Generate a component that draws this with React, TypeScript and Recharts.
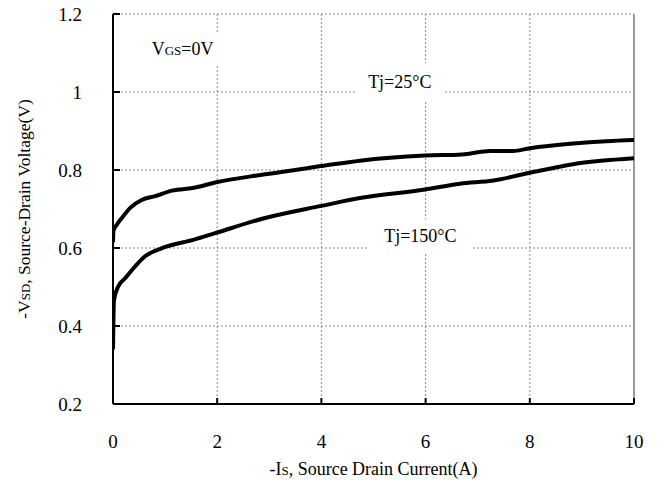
import {
  CartesianGrid,
  Line,
  LineChart,
  ReferenceArea,
  ReferenceLine,
  XAxis,
  YAxis,
} from "recharts";

// Tj = 25°C curve.
const current25 = [0, 0.01, 0.07, 0.17, 0.33, 0.55, 0.81, 1.13, 1.58, 1.96, 2.92, 4.0, 4.74, 5.99, 6.7, 7.24, 7.68, 8.0, 8.83, 9.47, 10];
const voltage25 = [0.615, 0.645, 0.659, 0.677, 0.703, 0.723, 0.733, 0.747, 0.755, 0.768, 0.789, 0.81, 0.824, 0.837, 0.84, 0.849, 0.849, 0.856, 0.868, 0.874, 0.877];

// Tj = 150°C curve.
const current150 = [0, 0.01, 0.02, 0.1, 0.23, 0.42, 0.61, 0.93, 1.57, 1.96, 2.92, 4.0, 4.74, 5.99, 6.66, 7.3, 8.0, 8.83, 10];
const voltage150 = [0.34, 0.43, 0.467, 0.501, 0.522, 0.552, 0.578, 0.599, 0.622, 0.638, 0.677, 0.708, 0.728, 0.75, 0.765, 0.773, 0.793, 0.815, 0.83];

const xTicks = [0, 2, 4, 6, 8, 10];
const yTicks = [0.2, 0.4, 0.6, 0.8, 1.0, 1.2];

const FONT = "'Liberation Serif', 'Times New Roman', serif";

// one table keyed by current; each curve skips the other's sample points
type Row = { x: number; t25?: number; t150?: number };
const rows = new Map<number, Row>();
current25.forEach((x, i) => rows.set(x, { ...(rows.get(x) ?? { x }), t25: voltage25[i] }));
current150.forEach((x, i) => rows.set(x, { ...(rows.get(x) ?? { x }), t150: voltage150[i] }));
const data = [...rows.values()].sort((a, b) => a.x - b.x);

// inward tick marks drawn as short segments (about 6-7px in a 521x390 plot)
const X_TICK_LEN = 6 / 390;
const Y_TICK_LEN = 7 / 52.1;

function XTick({ x, y, payload }: any) {
  return (
    <text x={x} y={y} dy="0.35em" textAnchor="middle" fontFamily={FONT} fontSize={19} fill="#000">
      {payload.value}
    </text>
  );
}

function YTick({ x, y, payload }: any) {
  return (
    <text x={x} y={y} dy="0.35em" textAnchor="end" fontFamily={FONT} fontSize={19} fill="#000">
      {payload.value}
    </text>
  );
}

function XTitle({ viewBox }: any) {
  const { x, y, width } = viewBox;
  return (
    <text x={x + width / 2} y={y + 71} textAnchor="middle" fontFamily={FONT} fontSize={18} fill="#000">
      <tspan>-I</tspan>
      <tspan fontSize={13}>S</tspan>
      <tspan>, Source Drain Current(A)</tspan>
    </text>
  );
}

function YTitle({ viewBox }: any) {
  const { x, y, height } = viewBox;
  const cx = x + 24;
  const cy = y + height / 2;
  return (
    <text
      x={cx}
      y={cy}
      dy="0.35em"
      textAnchor="middle"
      transform={`rotate(-90 ${cx} ${cy})`}
      fontFamily={FONT}
      fontSize={17.5}
      fill="#000"
    >
      <tspan>-V</tspan>
      <tspan fontSize={13}>SD</tspan>
      <tspan>, Source-Drain Voltage(V)</tspan>
    </text>
  );
}

// label drawn centered in a white box that hides the grid behind it
function BoxLabel({ viewBox, parts }: any) {
  const { x, y, width, height } = viewBox;
  return (
    <text
      x={x + width / 2}
      y={y + height / 2}
      dy="0.35em"
      textAnchor="middle"
      fontFamily={FONT}
      fontSize={18}
      fill="#000"
    >
      {parts.map((p: [string, boolean], i: number) => (
        <tspan key={i} fontSize={p[1] ? 13 : 18}>
          {p[0]}
        </tspan>
      ))}
    </text>
  );
}

export default function App() {
  return (
    <div style={{ position: "absolute", left: 0, top: 0, background: "#fff" }}>
      <LineChart width={658} height={488} data={data} margin={{ top: 14, right: 24, left: 0, bottom: 0 }}>
        <CartesianGrid stroke="#8a8a8a" strokeDasharray="2 2" />
        <ReferenceLine x={10} stroke="#999" strokeWidth={2} />
        <ReferenceArea
          x1={0.52}
          x2={2.15}
          y1={1.069}
          y2={1.151}
          fill="#fff"
          fillOpacity={1}
          stroke="none"
          label={<BoxLabel parts={[["V", false], ["GS", true], ["=0V", false]]} />}
        />
        <ReferenceArea
          x1={4.68}
          x2={6.33}
          y1={0.979}
          y2={1.074}
          fill="#fff"
          fillOpacity={1}
          stroke="none"
          label={<BoxLabel parts={[["Tj=25°C", false]]} />}
        />
        <ReferenceArea
          x1={4.89}
          x2={6.91}
          y1={0.587}
          y2={0.674}
          fill="#fff"
          fillOpacity={1}
          stroke="none"
          label={<BoxLabel parts={[["Tj=150°C", false]]} />}
        />
        {xTicks.map((t) => (
          <ReferenceLine
            key={`xt${t}`}
            segment={[
              { x: t, y: 0.2 },
              { x: t, y: 0.2 + X_TICK_LEN },
            ]}
            stroke="#000"
            strokeWidth={2}
          />
        ))}
        {yTicks.map((t) => (
          <ReferenceLine
            key={`yt${t}`}
            segment={[
              { x: 0, y: t },
              { x: Y_TICK_LEN, y: t },
            ]}
            stroke="#000"
            strokeWidth={2}
          />
        ))}
        <XAxis
          dataKey="x"
          type="number"
          domain={[0, 10]}
          ticks={xTicks}
          height={84}
          tickLine={false}
          tickSize={0}
          tickMargin={37}
          tick={<XTick />}
          axisLine={{ stroke: "#000", strokeWidth: 2 }}
          label={<XTitle />}
          allowDataOverflow
        />
        <YAxis
          type="number"
          domain={[0.2, 1.2]}
          ticks={yTicks}
          width={113}
          tickLine={false}
          tickSize={0}
          tickMargin={31}
          tick={<YTick />}
          axisLine={{ stroke: "#000", strokeWidth: 2 }}
          label={<YTitle />}
          allowDataOverflow
        />
        <Line
          dataKey="t25"
          type="monotone"
          connectNulls
          stroke="#000"
          strokeWidth={4}
          dot={false}
          isAnimationActive={false}
        />
        <Line
          dataKey="t150"
          type="monotone"
          connectNulls
          stroke="#000"
          strokeWidth={4}
          dot={false}
          isAnimationActive={false}
        />
      </LineChart>
    </div>
  );
}
